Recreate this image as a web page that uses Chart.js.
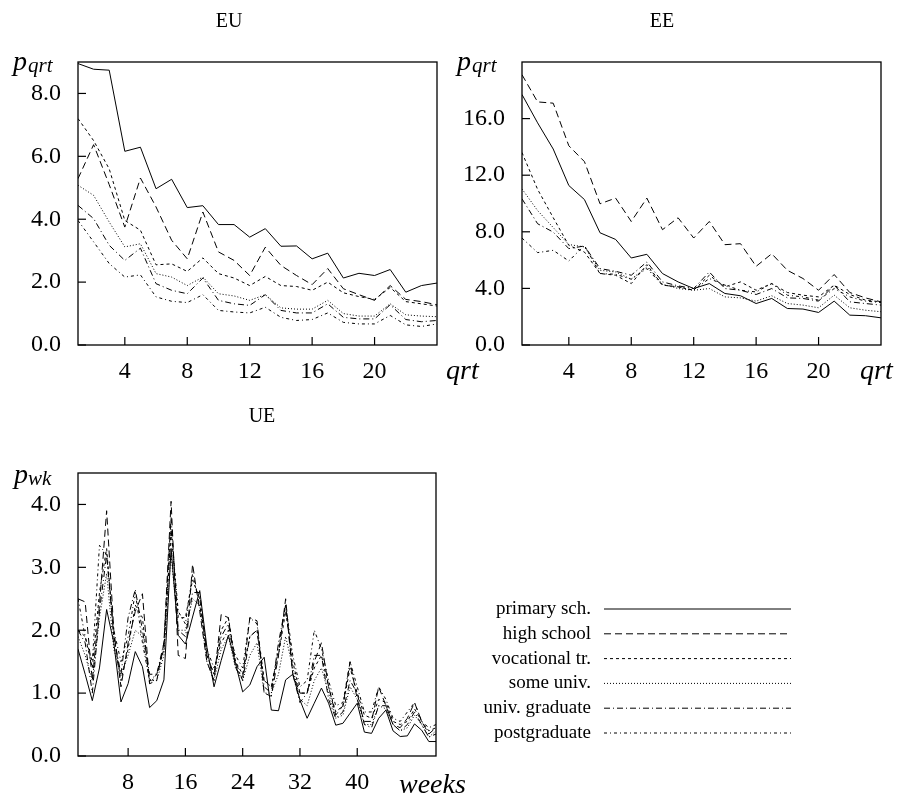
<!DOCTYPE html>
<html>
<head>
<meta charset="utf-8">
<script src="https://cdn.jsdelivr.net/npm/chart.js@4"></script>
<style>
html,body{margin:0;padding:0;background:#fff;}
#wrap{position:relative;width:901px;height:801px;overflow:hidden;}
canvas{position:absolute;left:0;top:0;}
</style>
</head>
<body>
<div id="wrap">
<canvas id="cEU" width="901" height="801"></canvas>
<canvas id="cEE" width="901" height="801"></canvas>
<canvas id="cUE" width="901" height="801"></canvas>
</div>
<script>
// ---------------- data ----------------
const seriesNames = ["primary sch.", "high school", "vocational tr.", "some univ.", "univ. graduate", "postgraduate"];

const quarters = [1,2,3,4,5,6,7,8,9,10,11,12,13,14,15,16,17,18,19,20,21,22,23,24];
const qrtTicks = [4, 8, 12, 16, 20];
const weeks = Array.from({length: 51}, (_, i) => i + 1);
const weekTicks = [8, 16, 24, 32, 40];

const euTicks = [0, 2, 4, 6, 8];
const eeTicks = [0, 4, 8, 12, 16];
const ueTicks = [0, 1, 2, 3, 4];

const euPrimary  = [8.95,8.77,8.74,6.16,6.29,4.97,5.27,4.37,4.43,3.83,3.83,3.43,3.70,3.14,3.15,2.74,2.92,2.13,2.28,2.21,2.40,1.68,1.89,1.97];
const euHigh     = [5.29,6.37,5.10,3.75,5.31,4.39,3.33,2.74,4.23,2.96,2.69,2.21,3.11,2.53,2.21,1.92,2.43,1.79,1.60,1.42,1.89,1.45,1.38,1.28];
const euVoc      = [7.20,6.50,5.60,3.96,3.65,2.55,2.58,2.34,2.77,2.27,2.13,1.89,2.18,1.89,1.86,1.74,2.00,1.66,1.54,1.45,1.83,1.38,1.31,1.24];
const euSome     = [5.08,4.76,3.91,3.12,3.22,2.27,2.16,1.89,2.16,1.63,1.56,1.42,1.60,1.18,1.14,1.14,1.42,1.00,0.92,0.92,1.31,0.96,0.92,0.90];
const euGrad     = [4.44,4.02,3.17,2.69,3.08,1.95,1.74,1.63,2.13,1.42,1.31,1.26,1.60,1.10,1.02,1.02,1.31,0.88,0.83,0.83,1.28,0.81,0.74,0.78];
const euPost     = [3.96,3.28,2.59,2.16,2.23,1.53,1.39,1.35,1.60,1.10,1.05,1.02,1.20,0.88,0.78,0.81,1.02,0.72,0.67,0.67,0.94,0.64,0.59,0.67];

const eePrimary  = [17.7,15.7,13.85,11.27,10.28,7.93,7.46,6.15,6.41,5.05,4.46,3.99,4.34,3.64,3.48,2.93,3.29,2.58,2.54,2.30,3.10,2.11,2.07,1.92];
const eeHigh     = [19.1,17.18,17.09,14.08,12.96,9.98,10.38,8.73,10.38,8.15,8.99,7.56,8.73,7.09,7.16,5.56,6.45,5.28,4.70,3.87,4.98,3.71,3.33,3.05];
const eeVoc      = [13.6,11.0,9.0,7.04,6.57,5.05,4.93,4.34,5.68,4.23,4.11,3.87,4.93,4.11,4.46,3.87,4.34,3.71,3.52,3.40,4.23,3.57,3.17,3.05];
const eeSome     = [11.03,9.5,8.3,7.1,6.93,5.28,5.16,4.65,5.52,4.30,3.99,3.87,3.99,3.40,3.33,3.10,3.48,2.93,2.82,2.63,3.52,2.63,2.46,2.35];
const eeGrad     = [10.33,8.57,7.98,6.81,7.00,5.40,5.21,4.93,5.87,4.46,4.18,3.99,5.16,3.99,3.87,3.57,3.99,3.33,3.29,3.10,4.23,3.05,2.93,2.82];
const eePost     = [7.56,6.53,6.69,5.94,7.04,5.05,5.00,4.65,5.40,4.23,4.11,3.87,4.70,4.23,3.87,3.75,4.34,3.52,3.40,3.17,3.99,3.40,3.10,3.00];

const uePrimary  = [1.70,1.30,0.88,1.40,2.33,1.80,0.86,1.15,1.66,1.42, 0.77,0.88,1.21,3.30,1.92,1.78,2.21,2.63,1.73,1.10, 1.52,1.92,1.47,1.02,1.13,1.42,1.57,0.73,0.72,1.21, 1.30,0.89,0.60,0.84,1.08,0.84,0.49,0.52,0.68,0.84, 0.38,0.36,0.60,0.73,0.40,0.31,0.32,0.51,0.41,0.23,0.23];
const ueHigh     = [2.50,2.45,1.20,2.40,3.90,2.00,1.10,1.80,2.30,2.58, 1.15,1.20,1.80,4.05,1.60,1.55,3.05,2.30,1.50,1.20, 2.25,2.20,1.40,1.25,2.20,2.15,1.00,0.95,1.60,2.50, 1.30,1.00,1.00,1.50,1.80,1.10,0.65,0.80,1.50,0.90, 0.55,0.55,1.10,0.80,0.50,0.45,0.60,0.85,0.55,0.35,0.45];
const ueVoc      = [2.00,1.90,1.40,2.60,3.30,1.90,1.20,1.70,2.40,2.20, 1.15,1.30,1.70,3.60,2.20,2.20,2.80,2.50,1.60,1.30, 2.00,2.20,1.50,1.30,1.90,2.00,1.20,1.10,1.60,2.30, 1.50,1.00,1.00,1.40,1.60,1.10,0.70,0.80,1.40,1.00, 0.65,0.60,0.90,0.85,0.55,0.50,0.55,0.75,0.55,0.40,0.45];
const ueSome     = [1.90,1.60,1.20,2.20,2.90,1.70,1.30,1.60,2.00,1.90, 1.20,1.20,1.60,3.20,2.00,2.00,2.50,2.40,1.50,1.20, 1.70,1.90,1.40,1.20,1.60,1.80,1.00,1.00,1.30,1.90, 1.40,0.90,0.80,1.20,1.40,1.00,0.60,0.65,1.10,0.90, 0.50,0.50,0.80,0.75,0.50,0.40,0.45,0.65,0.50,0.30,0.40];
const ueGrad     = [2.00,1.80,1.00,2.30,3.20,1.90,1.30,2.20,2.65,2.00, 1.30,1.30,1.80,3.80,2.00,1.90,2.60,2.60,1.60,1.30, 1.90,2.10,1.50,1.20,1.90,2.00,1.10,1.00,1.80,2.40, 1.30,0.85,1.00,1.60,1.60,0.90,0.60,0.70,1.20,1.00, 0.50,0.45,0.80,0.80,0.50,0.40,0.50,0.70,0.50,0.30,0.35];
const uePost     = [2.50,1.90,1.50,3.35,3.20,2.00,1.50,1.90,2.60,1.80, 1.20,1.30,1.70,3.60,2.30,2.10,2.90,2.40,1.70,1.40, 1.80,2.00,1.60,1.40,2.20,2.10,1.20,1.10,1.70,2.40, 1.60,1.10,1.20,2.00,1.70,1.20,0.80,0.85,1.50,1.10, 0.70,0.70,1.10,0.90,0.60,0.55,0.70,0.85,0.55,0.45,0.50];

// ---------------- styles ----------------
const dashes = [[], [7,4], [3,3], [1,2], [6,3,1,3], [3,3,1,3]];
const FONT = "'Liberation Serif', 'DejaVu Serif', serif";
const PW = 901, PH = 801;

function mkDatasets(xs, arrs) {
  return arrs.map((arr, k) => ({
    label: seriesNames[k],
    data: arr.map((v, i) => ({x: xs[i], y: v})),
    borderColor: '#000',
    borderWidth: 1,
    borderDash: dashes[k],
    pointRadius: 0,
    fill: false,
    tension: 0
  }));
}

function drawLine(ctx, x1, y1, x2, y2) {
  ctx.beginPath(); ctx.moveTo(x1, y1); ctx.lineTo(x2, y2); ctx.stroke();
}

function makeChart(id, box, xs, xmin, xmax, xt, ymax, yt, arrs, texts, legend) {
  const deco = {
    id: 'deco',
    afterDraw(chart) {
      const ctx = chart.ctx, a = chart.chartArea;
      const sx = chart.scales.x, sy = chart.scales.y;
      ctx.save();
      ctx.strokeStyle = '#000'; ctx.lineWidth = 1.3; ctx.setLineDash([]);
      ctx.strokeRect(a.left, a.top, a.right - a.left, a.bottom - a.top);
      ctx.lineWidth = 1.2;
      sx.ticks.forEach(t => { const p = sx.getPixelForValue(t.value); drawLine(ctx, p, a.bottom, p, a.bottom - 8); });
      sy.ticks.forEach(t => { const p = sy.getPixelForValue(t.value); drawLine(ctx, a.left, p, a.left + 8, p); });
      ctx.fillStyle = '#000';
      texts.forEach(t => {
        ctx.font = (t.it ? 'italic ' : '') + t.s + 'px ' + FONT;
        ctx.textAlign = t.al || 'left';
        ctx.textBaseline = 'alphabetic';
        ctx.fillText(t.txt, t.x, t.y);
      });
      if (legend) {
        chart.data.datasets.forEach((ds, k) => {
          const y = legend.y0 + k * legend.dy;
          ctx.font = legend.s + 'px ' + FONT;
          ctx.textAlign = 'right'; ctx.textBaseline = 'middle';
          ctx.fillText(ds.label, legend.tx, y);
          ctx.lineWidth = 1; ctx.setLineDash(ds.borderDash);
          drawLine(ctx, legend.x1, y, legend.x2, y);
        });
      }
      ctx.restore();
    }
  };
  return new Chart(document.getElementById(id), {
    type: 'line',
    data: {datasets: mkDatasets(xs, arrs)},
    options: {
      responsive: false, animation: false, devicePixelRatio: 1,
      layout: {autoPadding: false, padding: {left: 0, top: box.t, right: PW - box.r, bottom: 0}},
      plugins: {legend: {display: false}, tooltip: {enabled: false}, title: {display: false}},
      scales: {
        x: {
          type: 'linear', min: xmin, max: xmax,
          afterBuildTicks: s => { s.ticks = xt.map(v => ({value: v})); },
          afterFit: s => { s.height = PH - box.b; },
          grid: {display: false, drawTicks: false}, border: {display: false},
          ticks: {color: '#000', font: {family: FONT, size: 24}, padding: 12, maxRotation: 0, autoSkip: false}
        },
        y: {
          type: 'linear', min: 0, max: ymax,
          afterBuildTicks: s => { s.ticks = yt.map(v => ({value: v})); },
          afterFit: s => { s.width = box.l; },
          grid: {display: false, drawTicks: false}, border: {display: false},
          ticks: {color: '#000', font: {family: FONT, size: 24}, padding: 17, callback: v => Number(v).toFixed(1)}
        }
      }
    },
    plugins: [deco]
  });
}

makeChart('cEU', {l: 78, r: 437, t: 62, b: 345}, quarters, 1, 24, qrtTicks, 9, euTicks,
  [euPrimary, euHigh, euVoc, euSome, euGrad, euPost],
  [
    {txt: 'EU', x: 229, y: 27, s: 20, al: 'center'},
    {txt: 'p', x: 13, y: 70, s: 28, it: true},
    {txt: 'qrt', x: 28, y: 72, s: 21, it: true},
    {txt: 'qrt', x: 446, y: 379, s: 28, it: true}
  ]);

makeChart('cEE', {l: 522, r: 881, t: 62, b: 345}, quarters, 1, 24, qrtTicks, 20, eeTicks,
  [eePrimary, eeHigh, eeVoc, eeSome, eeGrad, eePost],
  [
    {txt: 'EE', x: 662, y: 27, s: 20, al: 'center'},
    {txt: 'p', x: 457, y: 70, s: 28, it: true},
    {txt: 'qrt', x: 472, y: 72, s: 21, it: true},
    {txt: 'qrt', x: 860, y: 379, s: 28, it: true}
  ]);

makeChart('cUE', {l: 78, r: 436, t: 473, b: 756}, weeks, 1, 51, weekTicks, 4.5, ueTicks,
  [uePrimary, ueHigh, ueVoc, ueSome, ueGrad, uePost],
  [
    {txt: 'UE', x: 262, y: 422, s: 20, al: 'center'},
    {txt: 'p', x: 14, y: 483, s: 28, it: true},
    {txt: 'wk', x: 28, y: 485, s: 21, it: true},
    {txt: 'weeks', x: 399, y: 793, s: 28, it: true}
  ],
  {y0: 609, dy: 24.8, tx: 591, x1: 604, x2: 791, s: 19});
</script>
</body>
</html>
